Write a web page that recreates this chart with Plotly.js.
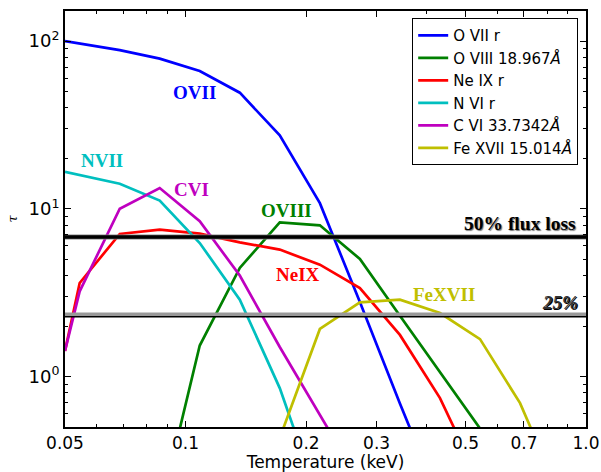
<!DOCTYPE html>
<html>
<head>
<meta charset="utf-8">
<script src="https://cdn.plot.ly/plotly-3.0.1.min.js"></script>
<style>html,body{margin:0;padding:0;background:#fff;}#chart{width:601px;height:472px;}</style>
</head>
<body>
<div id="chart"></div>
<script>
// Temperatures (keV)
const T_OVII  = [0.05, 0.0685, 0.0862, 0.1085, 0.1366, 0.1719, 0.2165, 0.2725, 0.3430, 0.4319];
const OVII    = [100, 88.3, 78.5, 66.2, 49.2, 27.4, 10.8, 2.78, 0.69, 0.18];
const T_OVIII = [0.0862, 0.1085, 0.1366, 0.1719, 0.2165, 0.2725, 0.3430, 0.4319, 0.5437];
const OVIII   = [0.155, 1.53, 4.44, 8.3, 7.97, 5.02, 2.30, 1.06, 0.49];
const T_NEIX  = [0.05, 0.0544, 0.0685, 0.0862, 0.1085, 0.1366, 0.1719, 0.2165, 0.2725, 0.3430, 0.4319, 0.5437];
const NEIX    = [1.42, 3.61, 7.08, 7.51, 7.1, 6.3, 5.71, 4.64, 3.37, 1.77, 0.743, 0.233];
const T_NVI   = [0.05, 0.0685, 0.0862, 0.1085, 0.1366, 0.1719, 0.2165];
const NVI     = [16.6, 14.1, 11.2, 6.25, 2.87, 0.853, 0.176];
const T_CVI   = [0.05, 0.0544, 0.0685, 0.0862, 0.1085, 0.1366, 0.1719, 0.2165, 0.2725];
const CVI     = [1.42, 3.22, 10.0, 13.3, 8.42, 4.0, 1.5, 0.577, 0.233];
const T_FEXVII= [0.1719, 0.2165, 0.2725, 0.3430, 0.4319, 0.5437, 0.6845, 0.8617];
const FEXVII  = [0.43, 1.92, 2.77, 2.87, 2.39, 1.67, 0.694, 0.194];

const seriesNames = ['O VII r', 'O VIII 18.967<i>Å</i>', 'Ne IX r', 'N VI r', 'C VI 33.7342<i>Å</i>', 'Fe XVII 15.014<i>Å</i>'];
const seriesColors = ['#0000ff', '#008000', '#ff0000', '#00bfbf', '#bf00bf', '#bfbf00'];

const lineLabels = ['OVII', 'OVIII', 'NeIX', 'NVII', 'CVI', 'FeXVII'];
const labelT   = [0.105, 0.179, 0.191, 0.0617, 0.1035, 0.443];
const labelTau = [49.4, 9.78, 4.07, 19.3, 13.0, 3.07];

const fluxLoss50 = 6.78;
const fluxLoss25 = 2.33;
const xEdges = [0.05, 1.0];

const xTicks = [0.05, 0.1, 0.2, 0.3, 0.5, 0.7, 1.0];
const xTickText = ['0.05', '0.1', '0.2', '0.3', '0.5', '0.7', '1.0'];
const xMinor = [0.06, 0.07, 0.08, 0.09, 0.4, 0.6, 0.8, 0.9];
const yTicks = [1, 10, 100];
const yTickText = ['10<sup>0</sup>', '10<sup>1</sup>', '10<sup>2</sup>'];
const yMinor = [0.5, 0.6, 0.7, 0.8, 0.9, 2, 3, 4, 5, 6, 7, 8, 9, 20, 30, 40, 50, 60, 70, 80, 90];

const xs = [T_OVII, T_OVIII, T_NEIX, T_NVI, T_CVI, T_FEXVII];
const ys = [OVII, OVIII, NEIX, NVI, CVI, FEXVII];

const traces = xs.map((x, i) => ({
  x: x, y: ys[i], type: 'scatter', mode: 'lines', name: seriesNames[i],
  line: {color: seriesColors[i], width: 2.7}
}));

// horizontal flux-loss lines
traces.push({x: xEdges, y: [fluxLoss50, fluxLoss50], mode: 'lines', showlegend: false, hoverinfo: 'skip',
  line: {color: '#888', width: 5}});
traces.push({x: xEdges, y: [fluxLoss50, fluxLoss50], mode: 'lines', showlegend: false, hoverinfo: 'skip',
  line: {color: '#000', width: 3.5}});
traces.push({x: xEdges, y: [fluxLoss25 * 1.01, fluxLoss25 * 1.01], mode: 'lines', showlegend: false, hoverinfo: 'skip',
  line: {color: '#999', width: 3.5}});
traces.push({x: xEdges, y: [fluxLoss25 * 0.975, fluxLoss25 * 0.975], mode: 'lines', showlegend: false, hoverinfo: 'skip',
  line: {color: '#000', width: 1.5}});

const annotations = lineLabels.map((t, i) => ({
  x: Math.log10(labelT[i]), y: Math.log10(labelTau[i]), xref: 'x', yref: 'y',
  text: '<b>' + t + '</b>', showarrow: false,
  font: {family: 'Liberation Serif, serif', size: 19, color: seriesColors[i]}
}));
annotations.push({
  x: 0.985, xref: 'paper', xanchor: 'right', y: Math.log10(8.16), yref: 'y',
  text: '<b>50% flux loss</b>', showarrow: false,
  font: {family: 'Liberation Serif, serif', size: 19.5, color: '#000', shadow: '1px 1px 1px #777'}
});
annotations.push({
  x: 0.988, xref: 'paper', xanchor: 'right', y: Math.log10(2.77), yref: 'y',
  text: '<b><i>25%</i></b>', showarrow: false,
  font: {family: 'Liberation Serif, serif', size: 19, color: '#333', shadow: '1px 1px 0px #000'}
});

const layout = {
  width: 601, height: 472,
  margin: {l: 65, r: 15, t: 11, b: 45.3},
  paper_bgcolor: '#fff', plot_bgcolor: '#fff',
  font: {family: 'DejaVu Sans, sans-serif', color: '#000'},
  showlegend: true,
  legend: {
    x: 0.985, xanchor: 'right', y: 0.983, yanchor: 'top',
    bgcolor: '#fff', bordercolor: '#000', borderwidth: 1,
    font: {family: 'DejaVu Sans, sans-serif', size: 15, color: '#000'},
    itemwidth: 30
  },
  xaxis: {
    type: 'log', range: [Math.log10(0.05), 0],
    tickvals: xTicks, ticktext: xTickText,
    ticks: 'inside', ticklen: 6, tickwidth: 1, tickcolor: '#000',
    showline: true, linewidth: 2, linecolor: '#000', mirror: 'ticks',
    showgrid: false, zeroline: false,
    tickfont: {size: 17},
    minor: {tickvals: xMinor, ticks: 'inside', ticklen: 3, tickcolor: '#000', showgrid: false},
    title: {text: 'Temperature (keV)', font: {size: 17}, standoff: 2}
  },
  yaxis: {
    type: 'log', range: [Math.log10(0.5), Math.log10(151)],
    tickvals: yTicks, ticktext: yTickText,
    ticks: 'inside', ticklen: 6, tickwidth: 1, tickcolor: '#000',
    showline: true, linewidth: 2, linecolor: '#000', mirror: 'ticks',
    showgrid: false, zeroline: false,
    tickfont: {size: 18},
    minor: {tickvals: yMinor, ticks: 'inside', ticklen: 3, tickcolor: '#000', showgrid: false},
    title: {text: '<i>τ</i>', font: {size: 13, family: 'DejaVu Serif, serif'}, standoff: 8}
  },
  annotations: annotations
};

Plotly.newPlot('chart', traces, layout, {staticPlot: true, displayModeBar: false});
</script>
</body>
</html>
